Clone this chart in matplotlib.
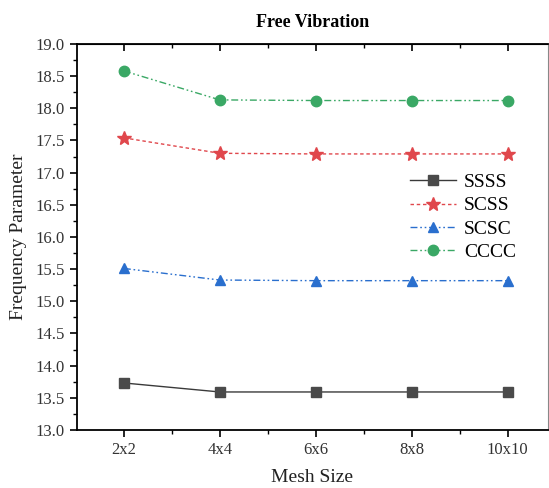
import numpy as np
import matplotlib.pyplot as plt
from matplotlib.ticker import MultipleLocator

mesh_sizes = ["2x2", "4x4", "6x6", "8x8", "10x10"]
ssss = [13.73, 13.59, 13.59, 13.59, 13.59]
scss = [17.54, 17.30, 17.29, 17.29, 17.29]
scsc = [15.51, 15.33, 15.32, 15.32, 15.32]
cccc = [18.58, 18.13, 18.12, 18.12, 18.12]

plt.rcParams["font.family"] = ["Liberation Serif", "DejaVu Serif"]

fig = plt.figure(figsize=(5.49, 4.88), dpi=100)
ax = fig.add_axes([0.140, 0.119, 0.858, 0.791])

x = np.arange(len(mesh_sizes))

# each boundary condition gets its own line style
ax.plot(x, ssss, color="#3a3a3a", lw=1.0, ls="-", marker="s", ms=6.5,
        mfc="#4a4a4a", mec="#4a4a4a", label="SSSS")
ax.plot(x, scss, color="#e0474c", lw=1.0, ls=(0, (2.5, 2)), marker="*", ms=10,
        mfc="#e0474c", mec="#e0474c", label="SCSS")
ax.plot(x, scsc, color="#2a6fce", lw=1.0, ls=(0, (5, 2, 1.2, 2, 1.2, 2)), marker="^", ms=7.5,
        mfc="#2a6fce", mec="#2a6fce", label="SCSC")
ax.plot(x, cccc, color="#3aa865", lw=1.0, ls=(0, (5, 2, 1.2, 2, 1.2, 2)), marker="o", ms=7.5,
        mfc="#3aa865", mec="#3aa865", label="CCCC")

ax.set_xlim(-0.49, 4.42)
ax.set_ylim(13.0, 19.0)
ax.set_xticks(x)
ax.set_xticklabels(mesh_sizes)
ax.xaxis.set_minor_locator(MultipleLocator(0.5))
ax.yaxis.set_major_locator(MultipleLocator(0.5))
ax.yaxis.set_minor_locator(MultipleLocator(0.25))
ax.yaxis.set_major_formatter(plt.FormatStrFormatter("%.1f"))

ax.tick_params(axis="both", which="major", direction="out", length=5, width=1.2,
               labelsize=12, colors="black", labelcolor="#333333")
ax.tick_params(axis="both", which="minor", direction="out", length=3, width=1.0)

# inward ticks on the top edge
top = ax.secondary_xaxis("top")
top.set_xticks(x)
top.xaxis.set_minor_locator(MultipleLocator(0.5))
top.tick_params(which="major", direction="in", length=5, width=1.2, labeltop=False)
top.tick_params(which="minor", direction="in", length=3, width=1.0)

for side in ["left", "bottom", "top"]:
    ax.spines[side].set_linewidth(1.3)
ax.spines["right"].set_linewidth(0.8)
ax.spines["right"].set_color("#888888")

ax.set_xlabel("Mesh Size", fontsize=14, color="#222222", labelpad=8)
ax.set_ylabel("Frequency Parameter", fontsize=14, color="#222222", labelpad=6)
ax.set_title("Free Vibration", fontsize=13, fontweight="bold", pad=12)

ax.legend(loc="upper left", bbox_to_anchor=(0.69, 0.685), frameon=False,
          fontsize=14, handlelength=2.4, handletextpad=0.4, labelspacing=0.3,
          borderaxespad=0)

fig.savefig("out.png", dpi=100)
